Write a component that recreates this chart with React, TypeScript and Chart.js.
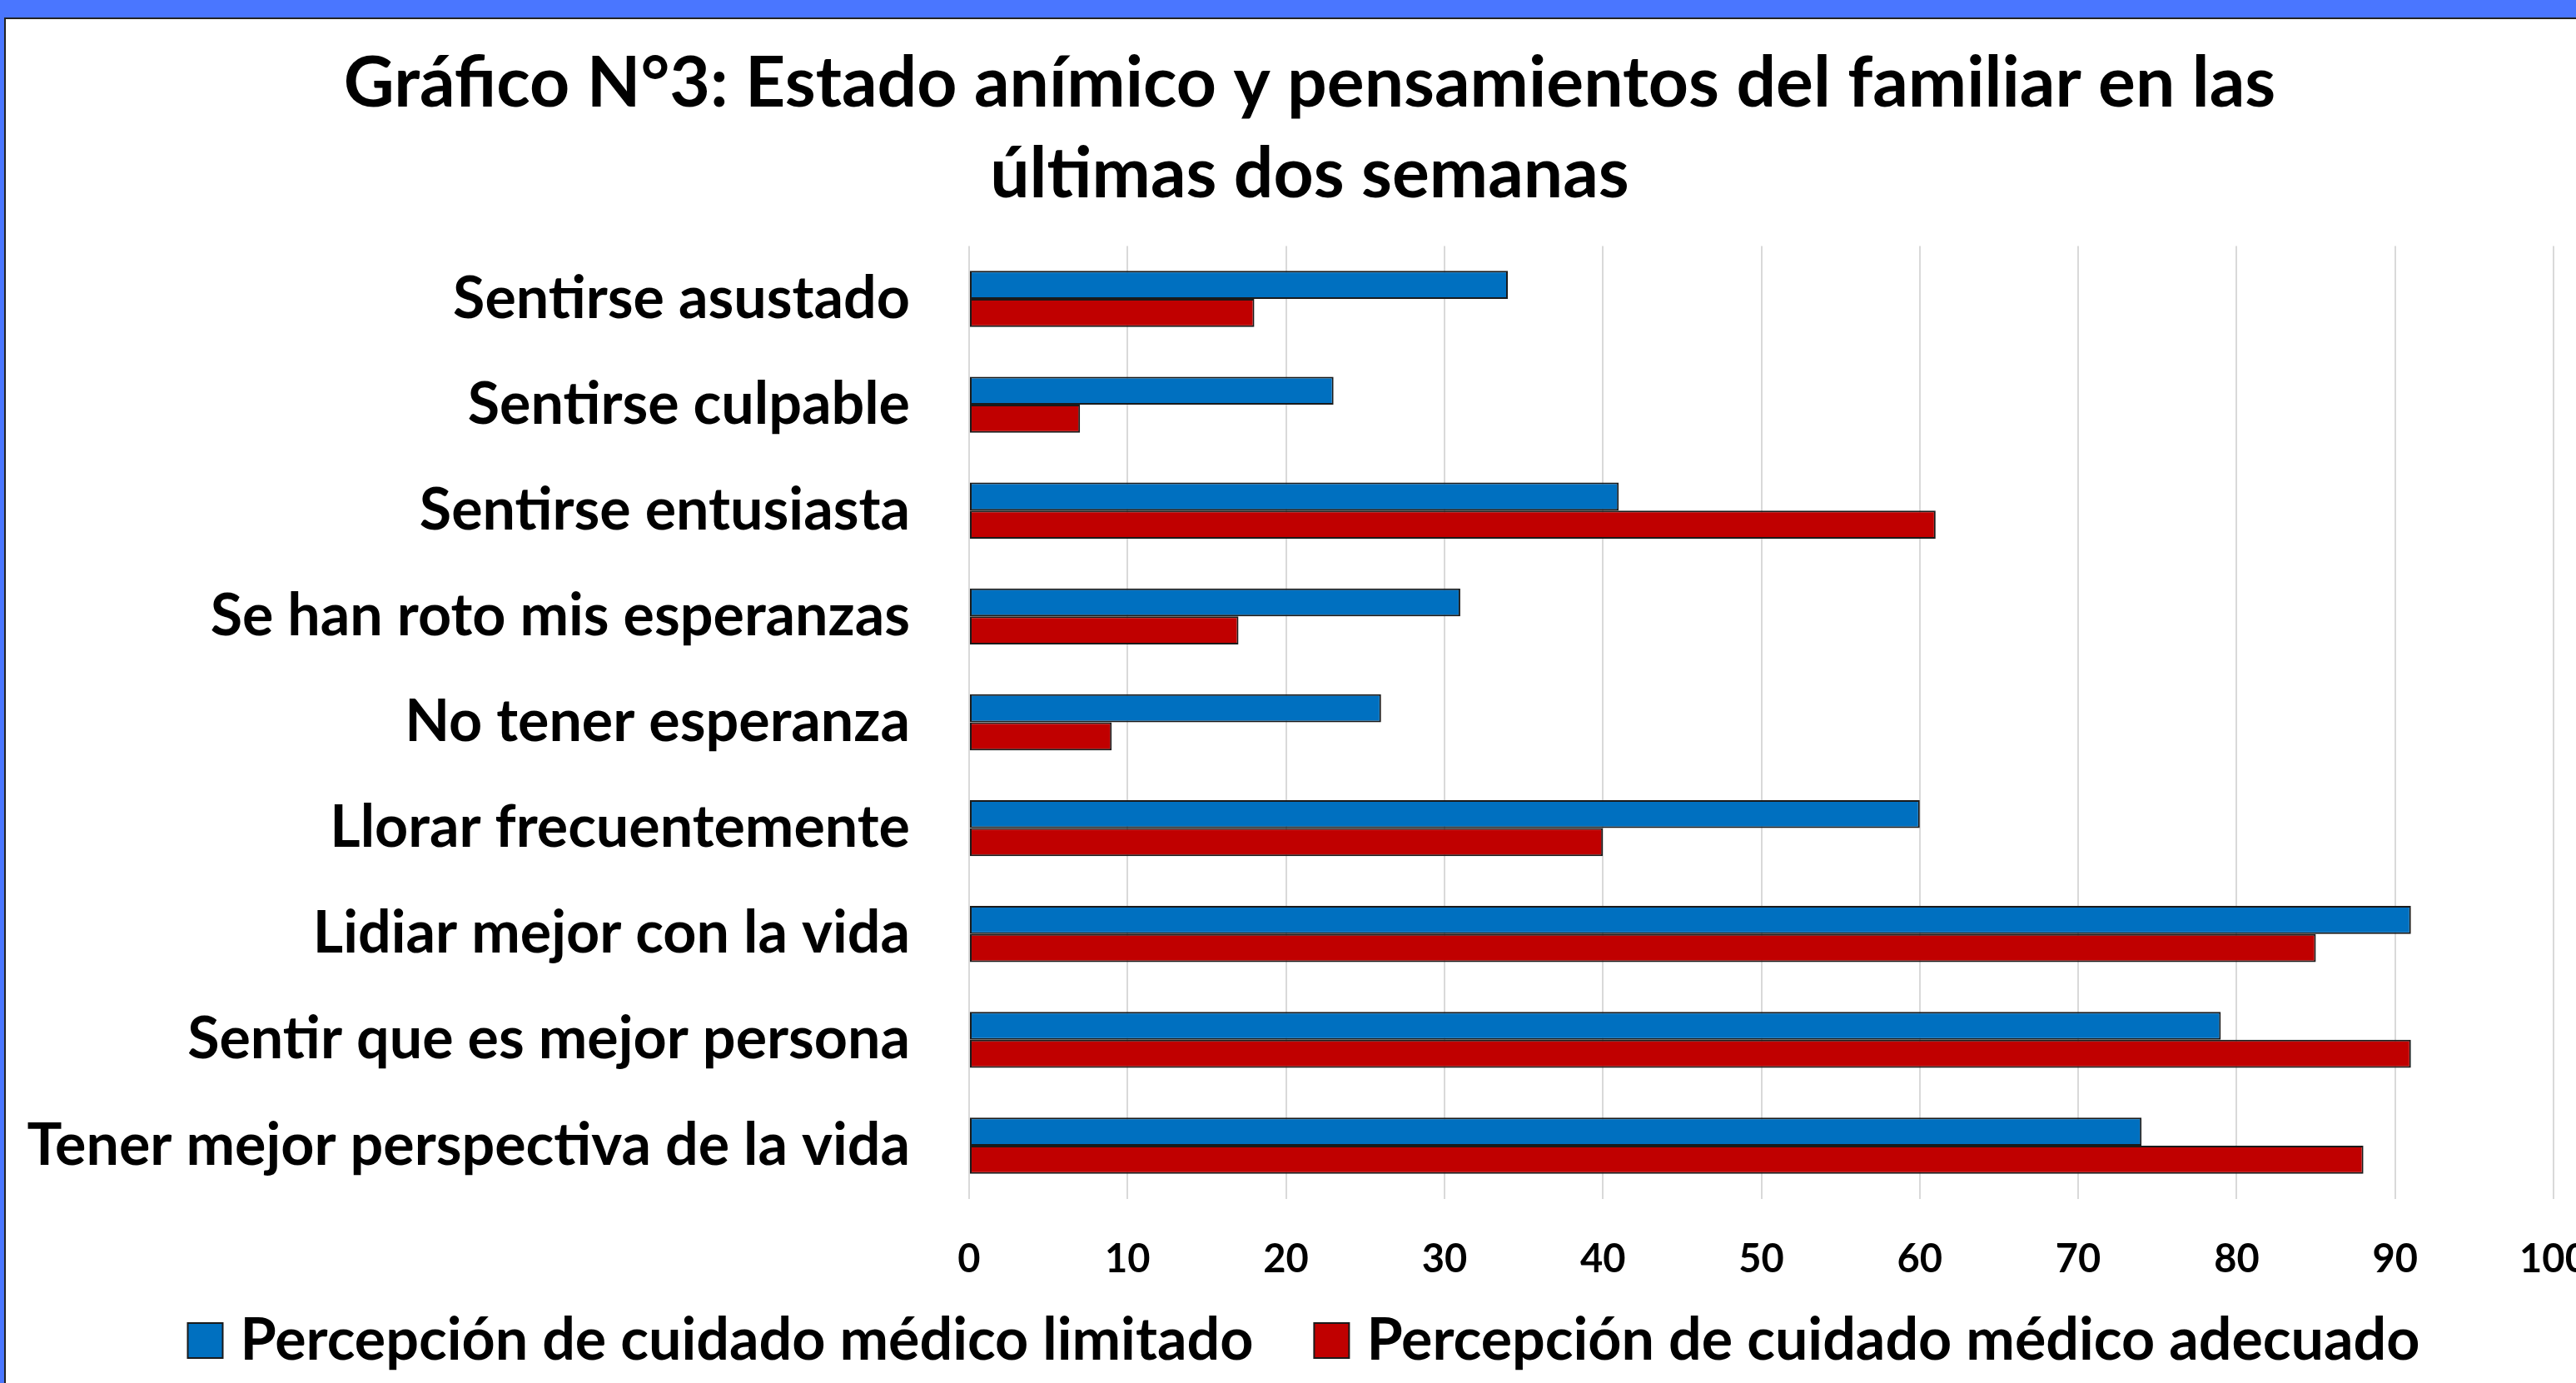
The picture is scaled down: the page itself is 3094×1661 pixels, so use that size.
import React, { useEffect, useRef } from 'react';
import { Chart, registerables } from 'chart.js';

Chart.register(...registerables);

const titleLines = [
  'Gráfico N°3: Estado anímico y pensamientos del familiar en las',
  'últimas dos semanas',
];

const categories = [
  'Sentirse asustado',
  'Sentirse culpable',
  'Sentirse entusiasta',
  'Se han roto mis esperanzas',
  'No tener esperanza',
  'Llorar frecuentemente',
  'Lidiar mejor con la vida',
  'Sentir que es mejor persona',
  'Tener mejor perspectiva de la vida',
];

const seriesLabels = [
  'Percepción de cuidado médico limitado',
  'Percepción de cuidado médico adecuado',
];

const limitedValues = [34, 23, 41, 31, 26, 60, 91, 79, 74];
const adequateValues = [18, 7, 61, 17, 9, 40, 85, 91, 88];

const xMin = 0;
const xMax = 100;
const xStep = 10;

const FONT = 'Lato';
const W = 3132;
const H = 1638;

export default function App() {
  const canvasRef = useRef<HTMLCanvasElement | null>(null);

  useEffect(() => {
    const canvas = canvasRef.current;
    if (!canvas) return;
    const chart = new Chart(canvas, {
      type: 'bar',
      data: {
        labels: categories,
        datasets: [
          {
            label: seriesLabels[0],
            data: limitedValues,
            backgroundColor: '#0070C0',
            borderColor: '#1a1a1a',
            borderWidth: 2,
            borderSkipped: false,
            categoryPercentage: 0.53,
            barPercentage: 1,
          },
          {
            label: seriesLabels[1],
            data: adequateValues,
            backgroundColor: '#C00000',
            borderColor: '#1a1a1a',
            borderWidth: 2,
            borderSkipped: false,
            categoryPercentage: 0.53,
            barPercentage: 1,
          },
        ],
      },
      options: {
        indexAxis: 'y',
        responsive: false,
        animation: false,
        devicePixelRatio: 1,
        layout: { padding: { left: 0, right: 0, top: 0, bottom: 6 } },
        plugins: {
          title: {
            display: true,
            text: titleLines,
            color: '#000',
            font: { family: FONT, size: 84, weight: 'bold', lineHeight: 109 / 84 },
            padding: { top: 23, bottom: 31.4 },
          },
          legend: {
            position: 'bottom',
            labels: {
              color: '#000',
              font: { family: FONT, size: 70, weight: 'bold' },
              usePointStyle: true,
              pointStyle: 'rect',
              boxWidth: 14,
              boxHeight: 42,
              padding: 87,
            },
          },
          tooltip: { enabled: false },
        },
        scales: {
          x: {
            type: 'linear',
            min: xMin,
            max: xMax,
            ticks: {
              stepSize: xStep,
              color: '#000',
              font: { family: FONT, size: 47, weight: 'bold' },
              mirror: true,
              padding: -102,
            },
            grid: { color: '#d9d9d9', lineWidth: 2, drawTicks: false },
            border: { display: false },
            afterFit: (s: any) => {
              s.height = 48.5;
            },
          },
          y: {
            ticks: {
              color: '#000',
              font: { family: FONT, size: 70, weight: 'bold' },
              padding: 71,
            },
            grid: { display: false, drawTicks: false },
            border: { display: false },
            afterFit: (s: any) => {
              s.width = 1157;
            },
          },
          yRight: {
            type: 'linear',
            position: 'right',
            display: true,
            ticks: { display: false },
            grid: { display: false, drawTicks: false },
            border: { display: false },
            afterFit: (s: any) => {
              s.width = 72;
            },
          },
        },
      } as any,
    });
    return () => chart.destroy();
  }, []);

  return (
    <div style={{ position: 'fixed', left: 0, top: 0, right: 0, bottom: 0, background: '#4a76ff', overflow: 'hidden' }}>
      <div
        style={{
          position: 'absolute',
          left: 5,
          top: 21,
          borderTop: '2px solid #222',
          borderLeft: '2px solid #222',
          background: '#fff',
          width: W,
          height: H,
        }}
      >
        <canvas ref={canvasRef} width={W} height={H} style={{ width: W, height: H, display: 'block' }} />
      </div>
    </div>
  );
}
